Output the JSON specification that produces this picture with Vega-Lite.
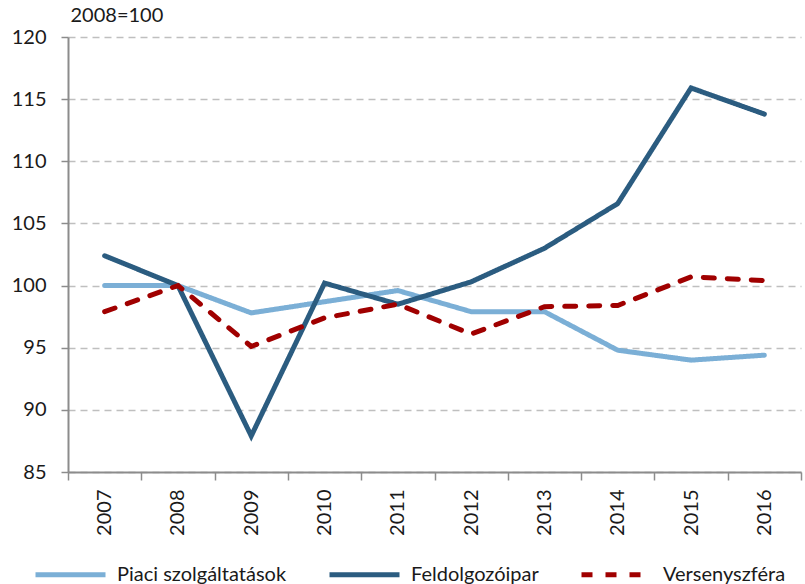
{
  "$schema": "https://vega.github.io/schema/vega-lite/v6.json",
  "width": 733,
  "height": 435,
  "autosize": {"type": "none"},
  "padding": {"left": 68, "top": 37, "right": 4, "bottom": 112},
  "background": "white",
  "config": {
    "view": {"stroke": null},
    "font": "Lato",
    "axis": {"labelFont": "Lato", "titleFont": "Lato", "labelColor": "#1a1a1a", "titleColor": "#1a1a1a"},
    "legend": {"labelFont": "Lato", "padding": 0}
  },
  "data": {
    "values": [
      {"year": "2007", "series": "Piaci szolgáltatások", "value": 100.0},
      {"year": "2008", "series": "Piaci szolgáltatások", "value": 100.0},
      {"year": "2009", "series": "Piaci szolgáltatások", "value": 97.8},
      {"year": "2010", "series": "Piaci szolgáltatások", "value": 98.7},
      {"year": "2011", "series": "Piaci szolgáltatások", "value": 99.6},
      {"year": "2012", "series": "Piaci szolgáltatások", "value": 97.9},
      {"year": "2013", "series": "Piaci szolgáltatások", "value": 97.9},
      {"year": "2014", "series": "Piaci szolgáltatások", "value": 94.8},
      {"year": "2015", "series": "Piaci szolgáltatások", "value": 94.0},
      {"year": "2016", "series": "Piaci szolgáltatások", "value": 94.4},
      {"year": "2007", "series": "Feldolgozóipar", "value": 102.4},
      {"year": "2008", "series": "Feldolgozóipar", "value": 100.0},
      {"year": "2009", "series": "Feldolgozóipar", "value": 87.9},
      {"year": "2010", "series": "Feldolgozóipar", "value": 100.2},
      {"year": "2011", "series": "Feldolgozóipar", "value": 98.5},
      {"year": "2012", "series": "Feldolgozóipar", "value": 100.3},
      {"year": "2013", "series": "Feldolgozóipar", "value": 103.0},
      {"year": "2014", "series": "Feldolgozóipar", "value": 106.6},
      {"year": "2015", "series": "Feldolgozóipar", "value": 115.9},
      {"year": "2016", "series": "Feldolgozóipar", "value": 113.8},
      {"year": "2007", "series": "Versenyszféra", "value": 97.9},
      {"year": "2008", "series": "Versenyszféra", "value": 100.0},
      {"year": "2009", "series": "Versenyszféra", "value": 95.1},
      {"year": "2010", "series": "Versenyszféra", "value": 97.4},
      {"year": "2011", "series": "Versenyszféra", "value": 98.5},
      {"year": "2012", "series": "Versenyszféra", "value": 96.1},
      {"year": "2013", "series": "Versenyszféra", "value": 98.3},
      {"year": "2014", "series": "Versenyszféra", "value": 98.4},
      {"year": "2015", "series": "Versenyszféra", "value": 100.7},
      {"year": "2016", "series": "Versenyszféra", "value": 100.4}
    ]
  },
  "mark": {"type": "line", "strokeWidth": 5, "strokeCap": "round", "strokeJoin": "miter"},
  "encoding": {
    "x": {
      "field": "year", "type": "ordinal",
      "scale": {"paddingInner": 0, "paddingOuter": 0},
      "axis": {
        "title": null, "labelAngle": -90, "labelFontSize": 20, "labelPadding": 9,
        "labelAlign": "right", "labelBaseline": "middle",
        "domainColor": "#8c8c8c", "domainWidth": 2, "tickColor": "#8c8c8c", "tickWidth": 1.5,
        "tickSize": 8, "tickBand": "extent", "grid": false
      }
    },
    "y": {
      "field": "value", "type": "quantitative",
      "scale": {"domain": [85, 120], "nice": false, "zero": false},
      "axis": {
        "values": [85, 90, 95, 100, 105, 110, 115, 120],
        "title": "2008=100", "titleAngle": 0, "titleAlign": "left", "titleBaseline": "middle",
        "titleX": 2, "titleY": -22, "titleFontSize": 20, "titleFontWeight": "normal",
        "labelFontSize": 20, "labelPadding": 15,
        "domainColor": "#8c8c8c", "domainWidth": 2, "tickColor": "#8c8c8c", "tickWidth": 1.5, "tickSize": 7,
        "grid": true, "gridColor": "#bfbfbf", "gridDash": [7, 5], "gridWidth": 1.5
      }
    },
    "color": {
      "field": "series", "type": "nominal",
      "scale": {"domain": ["Piaci szolgáltatások", "Feldolgozóipar", "Versenyszféra"], "range": ["#7bafd6", "#2b5c80", "#a00000"]},
      "legend": {
        "title": null, "orient": "none", "direction": "horizontal",
        "legendX": -35, "legendY": 500,
        "symbolType": "stroke", "symbolSize": 4900, "symbolStrokeWidth": 5,
        "labelFontSize": 20, "labelColor": "#1a1a1a", "labelOffset": 9, "columnPadding": 32, "labelLimit": 300
      }
    },
    "strokeDash": {
      "field": "series", "type": "nominal",
      "scale": {"domain": ["Piaci szolgáltatások", "Feldolgozóipar", "Versenyszféra"], "range": [[1, 0], [1, 0], [11, 13]]},
      "legend": null
    }
  }
}
